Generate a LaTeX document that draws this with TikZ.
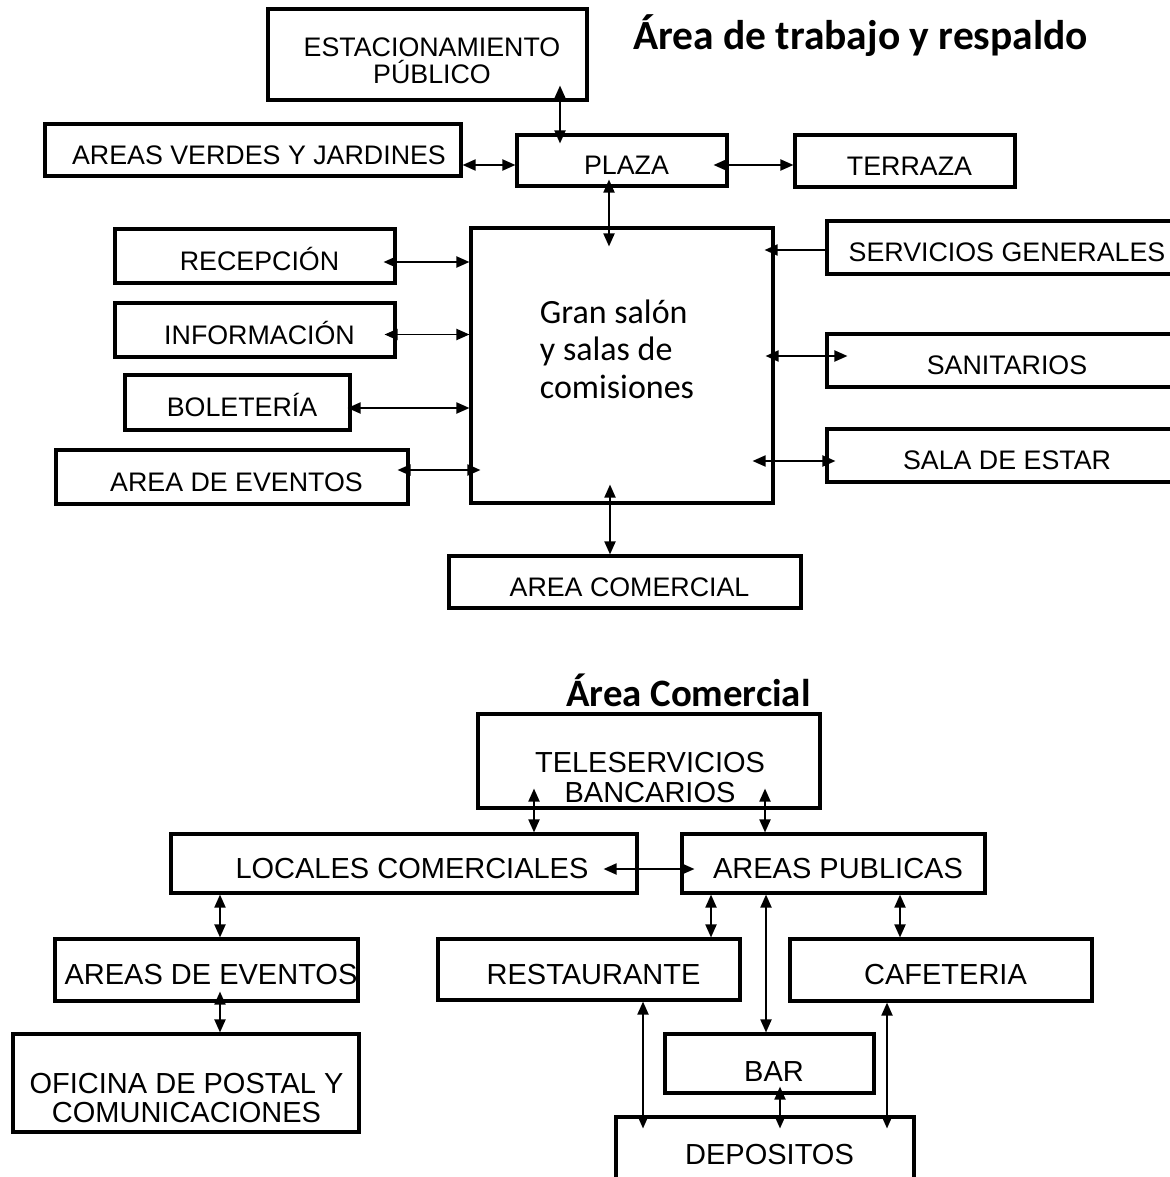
\documentclass[tikz,border=0pt]{standalone}
\usepackage{fontspec}
\setmainfont{Liberation Sans}
\newfontfamily\calibfont{Carlito}
\usetikzlibrary{arrows.meta,calc}
\begin{document}
\begin{tikzpicture}[x=1pt,y=-1pt,
  box/.style={draw, line width=3.1pt, inner sep=0pt, align=center},
  sh/.style={execute at begin node={\hspace*{9pt}}},
  ts/.style={font=\fontsize{26.8}{28}\selectfont, text height=28.2pt, text depth=0pt},
  bs/.style={font=\fontsize{29}{30}\selectfont, text height=29.8pt, text depth=0pt},
  >={Triangle[length=13pt,width=11pt]},
  dbl/.style={<->, line width=1.9pt},
  one/.style={->, line width=1.9pt},
  ttl/.style={font=\calibfont\bfseries\fontsize{41.5}{44}\selectfont, inner sep=0pt, anchor=base west}
]
\useasboundingbox (0,0) rectangle (1169,1177);

% ---------- titles ----------
\node[ttl] (t1) at (633,50) {Área de trabajo y respaldo};
\node[ttl, font=\calibfont\bfseries\fontsize{38.8}{42}\selectfont] (t2) at (566,706) {Área Comercial};

% ---------- top section ----------
\node[box,minimum width=319pt,minimum height=91pt] (estac) at (427.5,54.5) {};
\node[align=center, inner sep=0pt, font=\fontsize{26.8}{27}\selectfont] (estactxt) at (432,61) {ESTACIONAMIENTO\\PÚBLICO};
\node[box,ts,sh,minimum width=416pt,minimum height=52pt] (verdes) at (253,150) {\hspace*{3pt}AREAS VERDES Y JARDINES};
\node[box,ts,sh,minimum width=210pt,minimum height=51pt] (plaza) at (622,160.5) {PLAZA};
\node[box,ts,sh,minimum width=220pt,minimum height=52pt] (terraza) at (905,161) {TERRAZA};
\node[box,minimum width=302pt,minimum height=275pt] (gran) at (622,365.5) {};
\node[align=left, inner sep=0pt, font=\calibfont\fontsize{34}{37.5}\selectfont] (grantxt) at (617,349) {Gran salón\\y salas de\\comisiones};
\node[box,ts,sh,minimum width=280pt,minimum height=54pt] (recep) at (255,256) {RECEPCIÓN};
\node[box,ts,sh,minimum width=280pt,minimum height=54pt] (info) at (255,330) {INFORMACIÓN};
\node[box,ts,sh,minimum width=225pt,minimum height=55pt] (bolet) at (237.5,402.5) {BOLETERÍA};
\node[box,ts,sh,minimum width=352pt,minimum height=54pt] (evento) at (232,477) {AREA DE EVENTOS};
\node[box,ts,sh,minimum width=351pt,minimum height=53pt] (serv) at (1002.5,247.5) {SERVICIOS GENERALES};
\node[box,ts,sh,minimum width=351pt,minimum height=53pt] (sanit) at (1002.5,360.5) {SANITARIOS};
\node[box,ts,sh,minimum width=351pt,minimum height=53pt] (sala) at (1002.5,455.5) {SALA DE ESTAR};
\node[box,ts,sh,minimum width=352pt,minimum height=52pt] (acom) at (625,582) {AREA COMERCIAL};

% columns / rows
\coordinate (x560) at (560,0);
\coordinate (x609) at (609,0);
\coordinate (x610) at (610,0);
\coordinate (y165) at (0,165);
\coordinate (y262) at (0,262);
\coordinate (y334) at (0,334.5);
\coordinate (y408) at (0,408);
\coordinate (y471) at (0,470);
\coordinate (y250) at (0,250);
\coordinate (y356) at (0,356);
\coordinate (y461) at (0,461);

\draw[dbl, shorten <=-16pt, shorten >=-10pt] (estac.south -| x560) -- (plaza.north -| x560);
\draw[dbl] (verdes.east |- y165) -- (plaza.west |- y165);
\draw[dbl, shorten <=-15pt] (plaza.east |- y165) -- (terraza.west |- y165);
\draw[dbl, shorten <=-8pt, shorten >=-20pt] (plaza.south -| x609) -- (gran.north -| x609);
\draw[dbl, shorten <=-13pt] (recep.east |- y262) -- (gran.west |- y262);
\draw[dbl, shorten <=-12pt] (info.east |- y334) -- (gran.west |- y334);
\draw[dbl, shorten <=-4pt] (bolet.east |- y408) -- (gran.west |- y408);
\draw[dbl, shorten <=-12pt, shorten >=-11pt] (evento.east |- y471) -- (gran.west |- y471);
\draw[one, shorten >=-10pt] (serv.west |- y250) -- (gran.east |- y250);
\draw[dbl, shorten <=-9pt, shorten >=-22pt] (gran.east |- y356) -- (sanit.west |- y356);
\draw[dbl, shorten <=-22pt, shorten >=-10pt] (gran.east |- y461) -- (sala.west |- y461);
\draw[dbl, shorten <=-20pt] (gran.south -| x610) -- (acom.north -| x610);

% ---------- bottom section ----------
\node[box,minimum width=342pt,minimum height=94pt] (tele) at (649,761) {};
\node[align=center, inner sep=0pt, font=\fontsize{29}{30}\selectfont] (teletxt) at (650,777.5) {TELESERVICIOS\\BANCARIOS};
\node[box,bs,sh,minimum width=466pt,minimum height=59pt] (locales) at (404,863.5) {\hspace*{7pt}LOCALES COMERCIALES};
\node[box,bs,sh,minimum width=303pt,minimum height=59pt] (apub) at (833.5,863.5) {AREAS PUBLICAS};
\node[box,bs,sh,minimum width=303pt,minimum height=62pt] (aev) at (206.5,970) {AREAS DE EVENTOS};
\node[box,minimum width=346pt,minimum height=98pt] (ofi) at (186,1083) {};
\node[align=center, inner sep=0pt, font=\fontsize{29}{29.5}\selectfont] (ofitxt) at (186.5,1098) {OFICINA DE POSTAL Y\\COMUNICACIONES};
\node[box,bs,sh,minimum width=302pt,minimum height=61pt] (rest) at (589,969.5) {RESTAURANTE};
\node[box,bs,sh,minimum width=302pt,minimum height=62pt] (caf) at (941,970) {CAFETERIA};
\node[box,bs,sh,minimum width=209pt,minimum height=59pt, text height=35pt] (bar) at (769.5,1063.5) {BAR};
\node[box,bs,sh,minimum width=298pt,minimum height=65pt] (dep) at (765,1149.5) {DEPOSITOS};

\coordinate (x534) at (534,0);
\coordinate (x765) at (765,0);
\coordinate (x220) at (220,0);
\coordinate (x711) at (711,0);
\coordinate (x766) at (766,0);
\coordinate (x900) at (900,0);
\coordinate (x643) at (643,0);
\coordinate (x780) at (780,0);
\coordinate (x887) at (887,0);
\coordinate (y869) at (0,869);

\draw[dbl, shorten <=-21pt] (tele.south -| x534) -- (locales.north -| x534);
\draw[dbl, shorten <=-21pt] (tele.south -| x765) -- (apub.north -| x765);
\draw[dbl, shorten <=-35pt, shorten >=-14pt] (locales.east |- y869) -- (apub.west |- y869);
\draw[dbl] (locales.south -| x220) -- (aev.north -| x220);
\draw[dbl, shorten <=-11pt] (aev.south -| x220) -- (ofi.north -| x220);
\draw[dbl] (apub.south -| x711) -- (rest.north -| x711);
\draw[dbl] (apub.south -| x766) -- (bar.north -| x766);
\draw[dbl] (apub.south -| x900) -- (caf.north -| x900);
\draw[dbl, shorten >=-13pt] (rest.south -| x643) -- (dep.north -| x643);
\draw[dbl, shorten <=-8pt, shorten >=-13pt] (bar.south -| x780) -- (dep.north -| x780);
\draw[dbl, shorten >=-13pt] (caf.south -| x887) -- (dep.north -| x887);
\end{tikzpicture}
\end{document}
